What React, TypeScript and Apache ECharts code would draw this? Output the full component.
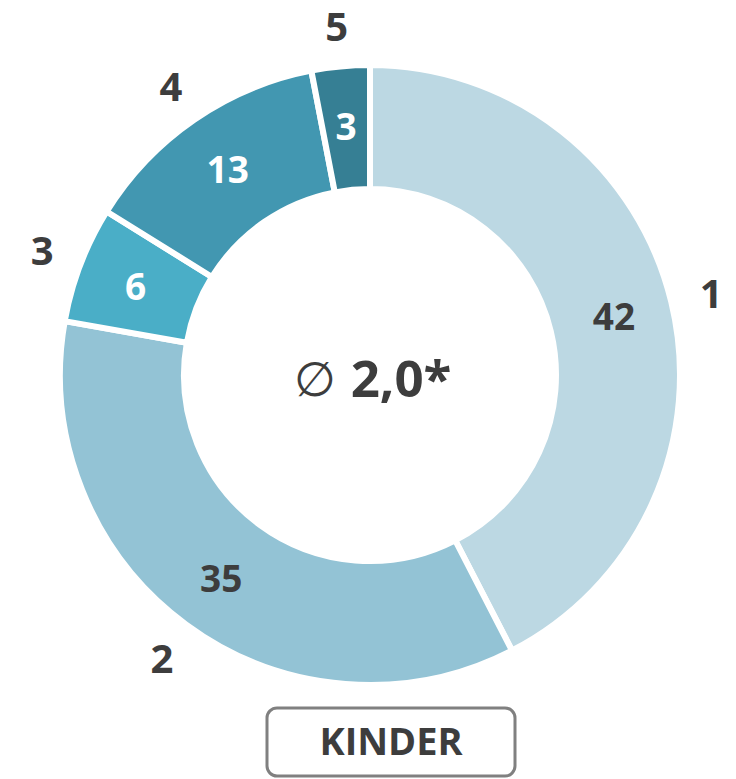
import React, { useEffect, useRef } from "react";
import * as echarts from "echarts";

const categories = ["1", "2", "3", "4", "5"];
const values = [42, 35, 6, 13, 3];
const colors = ["#bcd8e3", "#93c3d5", "#4aaec7", "#4297b1", "#367f94"];
const labelColors = ["#3d3d3d", "#3d3d3d", "#ffffff", "#ffffff", "#ffffff"];
const centerText = "2,0*";
const footerText = "KINDER";

const FONT = "'Open Sans', 'Noto Sans', sans-serif";

export default function App() {
  const ref = useRef<HTMLDivElement>(null);
  useEffect(() => {
    document.body.style.margin = "0";
    const chart = echarts.init(ref.current!, null, { renderer: "svg" });
    const data = categories.map((c, i) => ({
      name: c,
      value: values[i],
      itemStyle: { color: colors[i] },
      label: { color: labelColors[i] },
    }));
    chart.setOption({
      animation: false,
      series: [
        {
          type: "pie",
          center: [370, 375],
          radius: [186, 310],
          startAngle: 90,
          clockwise: true,
          silent: true,
          itemStyle: { borderColor: "#ffffff", borderWidth: 6 },
          label: {
            show: true,
            position: "inside",
            formatter: "{c}",
            fontFamily: FONT,
            fontWeight: "bold",
            fontSize: 37,
          },
          labelLine: { show: false },
          data,
        },
        {
          type: "pie",
          center: [370, 375],
          radius: [336, 360],
          startAngle: 90,
          clockwise: true,
          silent: true,
          itemStyle: { color: "transparent" },
          label: {
            show: true,
            position: "inside",
            formatter: "{b}",
            fontFamily: FONT,
            fontWeight: "bold",
            fontSize: 40,
            lineHeight: 34,
            color: "#3d3d3d",
          },
          labelLine: { show: false },
          data: categories.map((c, i) => ({ name: c, value: values[i] })),
        },
      ],
      graphic: [
        {
          type: "text",
          x: 315,
          y: 377,
          style: {
            text: "∅",
            font: `normal 48px ${FONT}`,
            fill: "#3d3d3d",
            textAlign: "center",
            textVerticalAlign: "middle",
          },
        },
        {
          type: "text",
          x: 401,
          y: 377,
          style: {
            text: centerText,
            font: `bold 51px ${FONT}`,
            fill: "#3d3d3d",
            textAlign: "center",
            textVerticalAlign: "middle",
          },
        },
        {
          type: "rect",
          shape: { x: 267, y: 708, width: 248, height: 68, r: 10 },
          style: { fill: "#ffffff", stroke: "#808080", lineWidth: 3 },
        },
        {
          type: "text",
          x: 391,
          y: 740,
          style: {
            text: footerText,
            font: `bold 38px ${FONT}`,
            fill: "#3d3d3d",
            textAlign: "center",
            textVerticalAlign: "middle",
          },
        },
      ],
    });
    return () => chart.dispose();
  }, []);
  return <div ref={ref} style={{ width: 736, height: 779 }} />;
}
